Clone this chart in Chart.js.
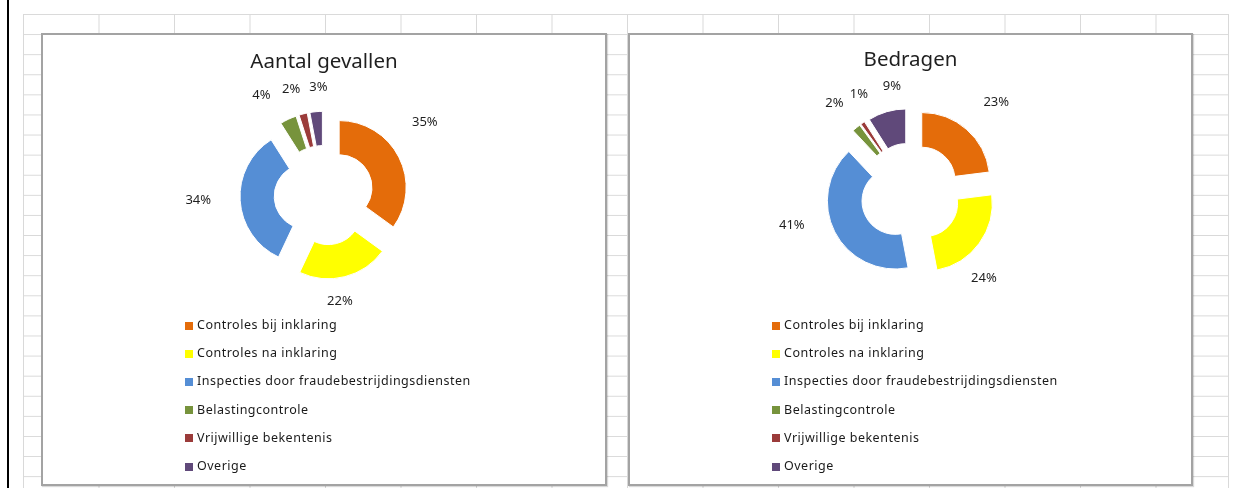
<!DOCTYPE html>
<html>
<head>
<meta charset="utf-8">
<script src="https://cdn.jsdelivr.net/npm/chart.js@4.4.1/dist/chart.umd.min.js"></script>
<style>
    html, body { margin: 0; padding: 0; background: #fff; }
    body { width: 1234px; height: 488px; position: relative; overflow: hidden; font-family: "Noto Sans", sans-serif; }
    #rule { position: absolute; left: 7px; top: 0; width: 2px; height: 488px; background: #000; }
    #sheet {
        position: absolute; left: 23px; top: 14px; width: 1205px; height: 474px;
        background-image: linear-gradient(to right, #d9d9d9 1px, transparent 1px),
                          linear-gradient(to bottom, #d9d9d9 1px, transparent 1px);
        background-size: 75.5px 20.1px;
        border-right: 1px solid #d9d9d9;
    }
    .box {
        position: absolute; top: 33px; height: 453px; box-sizing: border-box;
        border: 2px solid #a3a3a3; background: #fff;
        box-shadow: 1px 1px 1px rgba(0, 0, 0, 0.15);
    }
    .box canvas { position: absolute; left: 0; top: 0; }
    .legend { position: absolute; left: 142px; top: 276px; margin: 0; padding: 0; list-style: none; }
    .legend li { height: 28.2px; line-height: 28.2px; font-size: 12.5px; letter-spacing: 0.5px; color: #1a1a1a; white-space: nowrap; }
    .legend span { display: inline-block; width: 8px; height: 8px; margin-right: 4px; vertical-align: middle; }
</style>
</head>
<body>
<div id="rule"></div>
<div id="sheet"></div>
<div class="box" style="left:41px; width:566px;">
    <canvas id="aantal" width="562" height="300"></canvas>
    <ul class="legend" id="aantal-legend"></ul>
</div>
<div class="box" style="left:628px; width:565px;">
    <canvas id="bedragen" width="561" height="300"></canvas>
    <ul class="legend" id="bedragen-legend"></ul>
</div>
<script>
// categories shared by both charts
const categories = [
    "Controles bij inklaring",
    "Controles na inklaring",
    "Inspecties door fraudebestrijdingsdiensten",
    "Belastingcontrole",
    "Vrijwillige bekentenis",
    "Overige",
];
// percentages
const aantalValues = [35, 22, 34, 4, 2, 3];
const bedragenValues = [23, 24, 41, 2, 1, 9];

const sliceColors = ["#e46c0a", "#ffff00", "#558ed5", "#77933c", "#9b3b3a", "#60497a"];

// the labels in the original were dragged by hand, so nudge them a bit
const aantalNudge = [[1, -22], [-12, -2], [-14, -2], [-15, 1], [-5, 2], [5, 3]];
const bedragenNudge = [[11, -6], [-18, 19], [-18, -19], [-4, -3], [12, -6], [13, 2]];

// pull every slice out from the centre (exploded doughnut)
const explode = {
    id: "explode",
    afterDatasetUpdate(chart, args, opts) {
        const dist = opts.distance || 0;
        args.meta.data.forEach((arc) => {
            const mid = (arc.startAngle + arc.endAngle) / 2;
            arc.x += Math.cos(mid) * dist;
            arc.y += Math.sin(mid) * dist;
        });
    },
};

function percentLabels(nudges) {
    return {
        id: "percentLabels",
        afterDatasetsDraw(chart) {
            const ctx = chart.ctx;
            const meta = chart.getDatasetMeta(0);
            const values = chart.data.datasets[0].data;
            const total = values.reduce((a, b) => a + b, 0);
            ctx.save();
            ctx.font = "13px 'Noto Sans'";
            ctx.fillStyle = "#1f1f1f";
            ctx.textAlign = "center";
            ctx.textBaseline = "middle";
            meta.data.forEach((arc, i) => {
                const mid = (arc.startAngle + arc.endAngle) / 2;
                const r = arc.outerRadius + 28;
                const n = nudges[i] || [0, 0];
                const x = arc.x + Math.cos(mid) * r + n[0];
                const y = arc.y + Math.sin(mid) * r + n[1];
                ctx.fillText(Math.round((values[i] / total) * 100) + "%", x, y);
            });
            ctx.restore();
        },
    };
}

function drawDoughnut(canvasId, legendId, title, values, nudges, radius, titleTop, padBottom) {
    const chart = new Chart(document.getElementById(canvasId), {
        type: "doughnut",
        data: {
            labels: categories,
            datasets: [
                {
                    data: values,
                    backgroundColor: sliceColors,
                    borderColor: "#ffffff",
                    borderWidth: 1,
                },
            ],
        },
        options: {
            responsive: false,
            animation: false,
            radius: radius,
            cutout: "49%",
            layout: {
                padding: { bottom: padBottom },
            },
            plugins: {
                title: {
                    display: true,
                    text: title,
                    color: "#1f1f1f",
                    font: { family: "'Noto Sans'", size: 20.5, weight: "normal" },
                    padding: { top: titleTop, bottom: 0 },
                },
                legend: { display: false },
                tooltip: { enabled: false },
                explode: { distance: 17 },
            },
        },
        plugins: [explode, percentLabels(nudges)],
    });

    // legend as a plain list under the ring
    const items = chart.options.plugins.legend.labels.generateLabels(chart);
    const list = document.getElementById(legendId);
    items.forEach((item) => {
        const li = document.createElement("li");
        const swatch = document.createElement("span");
        swatch.style.background = item.fillStyle;
        li.appendChild(swatch);
        li.appendChild(document.createTextNode(item.text));
        list.appendChild(li);
    });
    return chart;
}

drawDoughnut("aantal", "aantal-legend", "Aantal gevallen", aantalValues, aantalNudge, 67, 15, 19);
drawDoughnut("bedragen", "bedragen-legend", "Bedragen", bedragenValues, bedragenNudge, 68, 13, 21);
</script>
</body>
</html>
